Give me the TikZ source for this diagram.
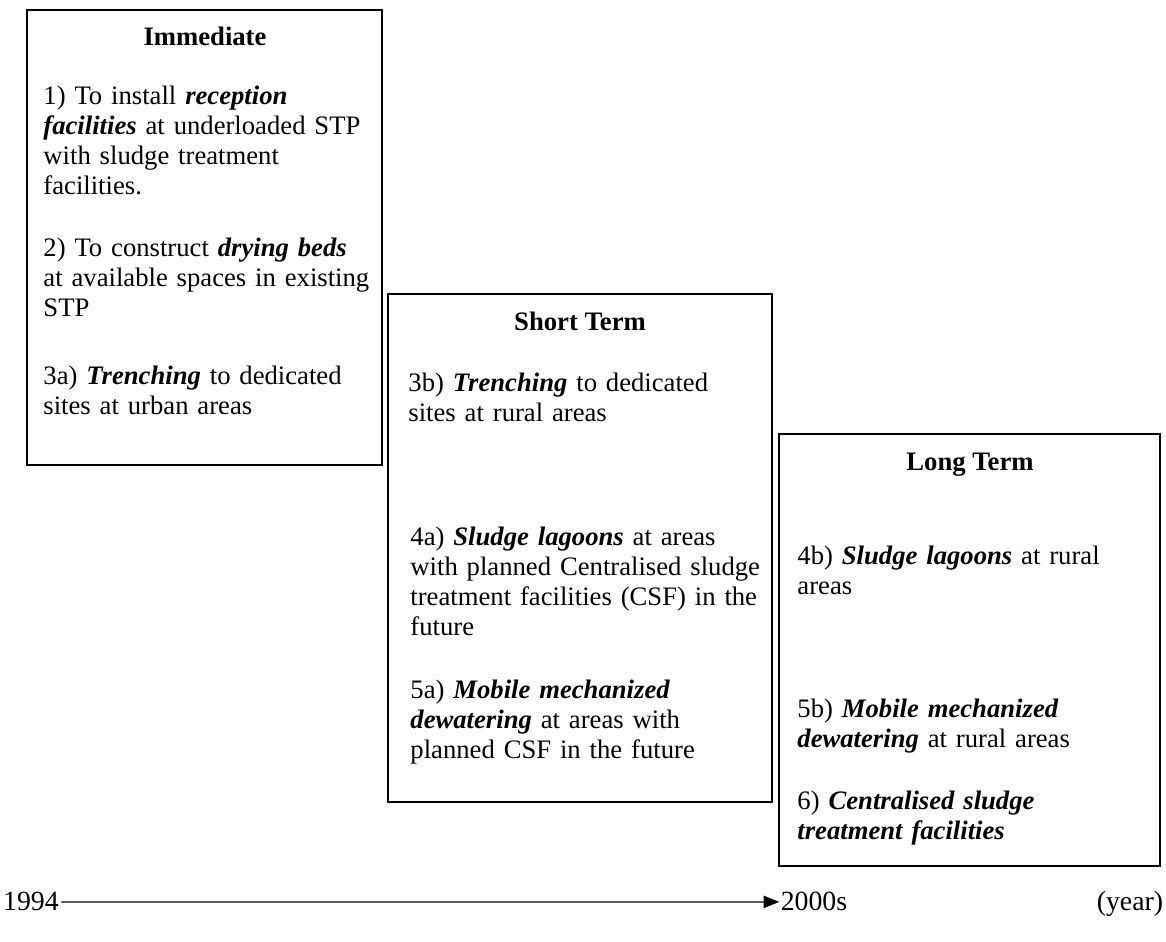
\documentclass[tikz,border=0pt]{standalone}
\usepackage{fontspec}
\setmainfont{Liberation Serif}
\usepackage{tikz}
\usetikzlibrary{arrows.meta,positioning,calc}
\tikzset{
  panel/.style={draw, rectangle, line width=0.6pt, inner sep=0pt},
  head/.style ={anchor=base, font=\fontsize{12}{13.5}\selectfont\bfseries, inner sep=0pt},
  item/.style ={anchor=base west, align=left, inner sep=0pt,
                font=\fontsize{12}{13.5}\selectfont},
  yr/.style   ={anchor=base, inner sep=1pt, font=\fontsize{12.5}{15}\selectfont},
  ar/.style   ={-{Triangle[length=7pt,width=5.5pt]}, line width=0.55pt},
}
\newcommand{\key}[1]{\textbf{\textit{#1}}}
\begin{document}
\begin{tikzpicture}[x=0.45pt,y=-0.45pt]
\useasboundingbox[fill=white] (0,0) rectangle (1166,942);
% three stages
\node[panel, minimum width=159.75pt, minimum height=204.75pt] (imm) at (204.5,237.5) {};
\node[panel, minimum width=172.8pt, minimum height=228.6pt] (short) at (580,548) {};
\node[panel, minimum width=171.45pt, minimum height=194.4pt] (long) at (969.5,650) {};
\node[head] (immh) at (205,46) {Immediate};
\node[head] (shorth) at (580,331) {Short Term};
\node[head] (longh) at (970,471) {Long Term};
% immediate
\node[item, text width=153pt] (i1) at (43,105) {1) To install \key{reception}\\ \key{facilities} at underloaded STP\\ with sludge treatment\\ facilities.};
\node[item, text width=153pt] (i2) at (43,257) {2) To construct \key{drying beds}\\ at available spaces in existing\\ STP};
\node[item, text width=153pt] (i3a) at (43,385) {3a) \key{Trenching} to dedicated\\ sites at urban areas};
% short term
\node[item, text width=160pt] (s3b) at (408,392) {3b) \key{Trenching} to dedicated\\ sites at rural areas};
\node[item, text width=160pt] (s4a) at (410,546) {4a) \key{Sludge lagoons} at areas\\ with planned Centralised sludge\\ treatment facilities (CSF) in the\\ future};
\node[item, text width=160pt] (s5a) at (410,699) {5a) \key{Mobile mechanized}\\ \key{dewatering} at areas with\\ planned CSF in the future};
% long term
\node[item, text width=158pt] (l4b) at (797,565) {4b) \key{Sludge lagoons} at rural\\ areas};
\node[item, text width=158pt] (l5b) at (797,718) {5b) \key{Mobile mechanized}\\ \key{dewatering} at rural areas};
\node[item, text width=158pt] (l6) at (797,810) {6) \key{Centralised sludge}\\ \key{treatment facilities}};
% time axis
\node[yr] (y1994) at (31,911) {1994};
\node[yr, inner sep=0.5pt] (y2000) at (814,911) {2000s};
\node[yr] (year) at (1130,911) {(year)};
\draw[ar] (y1994.east) -- (y2000.west);
\end{tikzpicture}
\end{document}
